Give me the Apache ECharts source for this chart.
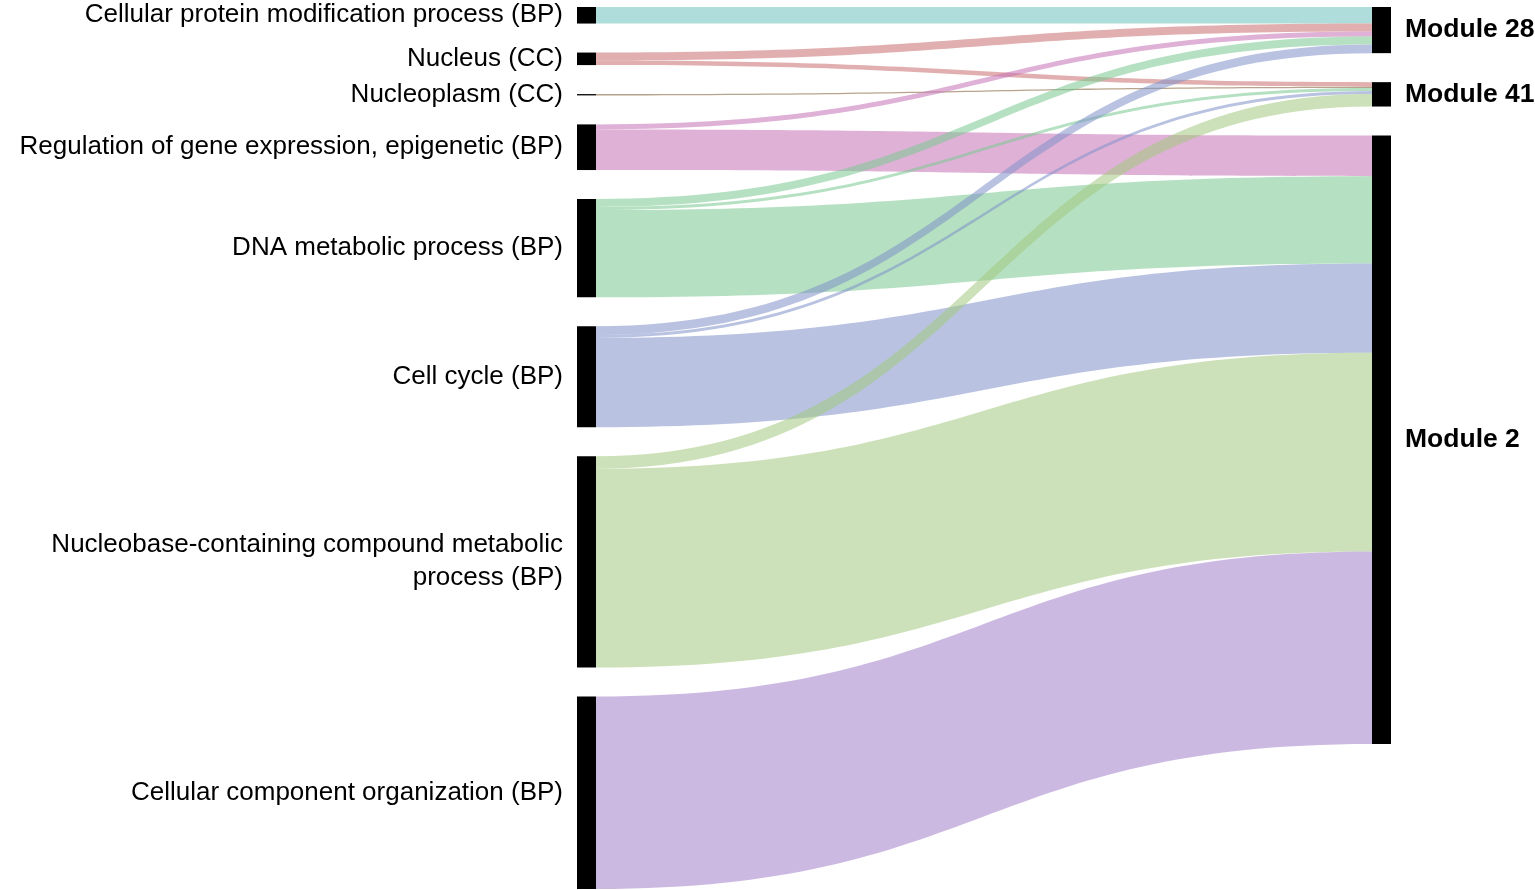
<!DOCTYPE html>
<html>
<head>
<meta charset="utf-8">
<script src="https://cdn.jsdelivr.net/npm/echarts@6/dist/echarts.min.js"></script>
<style>
html,body{margin:0;padding:0;background:#fff;}
#chart{width:1535px;height:890px;}
</style>
</head>
<body>
<div id="chart"></div>
<script>
// GO terms (left column)
const sources = [
  'Cellular protein modification process (BP)',
  'Nucleus (CC)',
  'Nucleoplasm (CC)',
  'Regulation of gene expression, epigenetic (BP)',
  'DNA metabolic process (BP)',
  'Cell cycle (BP)',
  'Nucleobase-containing compound metabolic process (BP)',
  'Cellular component organization (BP)'
];
// displayed label text (wrapped where the reference wraps)
const sourceLabels = [
  'Cellular protein modification process (BP)',
  'Nucleus (CC)',
  'Nucleoplasm (CC)',
  'Regulation of gene expression, epigenetic (BP)',
  'DNA metabolic process (BP)',
  'Cell cycle (BP)',
  'Nucleobase-containing compound metabolic\nprocess (BP)',
  'Cellular component organization (BP)'
];
// modules (right column)
const modules = ['Module 28', 'Module 41', 'Module 2'];
// flow values from each GO term to each module
const toModule28 = [16.5, 8, 0, 5, 8, 8.5, 0, 0];
const toModule41 = [0, 4.5, 1.3, 0, 3, 3, 12.5, 0];
const toModule2  = [0, 0, 0, 40.5, 87, 89, 198, 192];
// link colours per GO term
const sourceColors = ['#6ec1be', '#c86e6e', '#7d5a2e', '#c671b7', '#78c88f', '#7f91c8', '#a3c87f', '#a37fc8'];

const flows = [toModule28, toModule41, toModule2];
const nodes = sources.map((n, i) => ({
  name: n,
  label: { position: 'left', formatter: () => sourceLabels[i] }
})).concat(modules.map(m => ({
  name: m,
  label: { position: 'right', fontWeight: 'bold', fontSize: 26.5 }
})));
const links = [];
sources.forEach((s, i) => {
  modules.forEach((m, j) => {
    const v = flows[j][i];
    if (v > 0) links.push({ source: s, target: m, value: v, lineStyle: { color: sourceColors[i] } });
  });
});

const chart = echarts.init(document.getElementById('chart'), null, { renderer: 'canvas' });
chart.setOption({
  backgroundColor: '#ffffff',
  animation: false,
  series: [{
    type: 'sankey',
    left: 577,
    right: 144,
    top: 7,
    bottom: 1,
    nodeWidth: 19,
    nodeGap: 29,
    layoutIterations: 0,
    draggable: false,
    data: nodes,
    links: links,
    itemStyle: { color: '#000', borderWidth: 0 },
    lineStyle: { opacity: 0.55, curveness: 0.5 },
    label: {
      color: '#000',
      fontFamily: 'Liberation Sans, Arial, sans-serif',
      fontSize: 26,
      distance: 14,
      lineHeight: 33
    },
    emphasis: { disabled: true }
  }]
});
</script>
</body>
</html>
